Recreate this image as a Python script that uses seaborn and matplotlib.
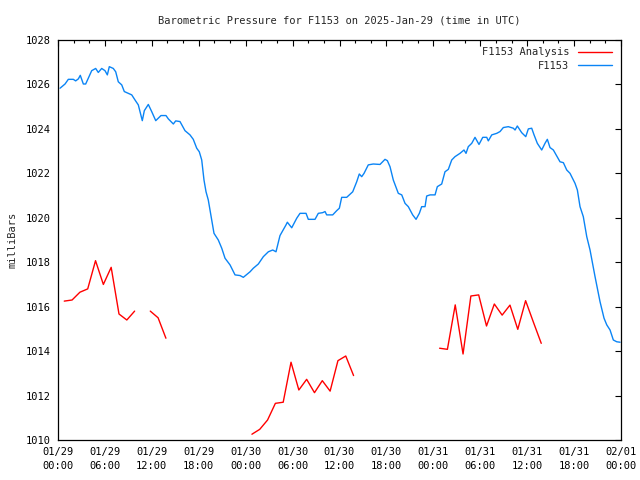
import numpy as np
import pandas as pd
import matplotlib
matplotlib.use('Agg')
import matplotlib.pyplot as plt
import seaborn as sns

# hours since 2025-01-29 00:00 UTC
obs_hours = [0.26, 0.9, 1.32, 1.96, 2.26, 2.6, 2.85, 3.24, 3.54, 4.31, 4.82, 5.15, 5.59, 6.01,
             6.31, 6.56, 7.07, 7.38, 7.71, 8.15, 8.48, 9.43, 9.85, 10.27, 10.49, 10.78, 11.04,
             11.55, 11.98, 12.5, 13.17, 13.81, 14.11, 14.75, 15.05, 15.6, 16.24, 16.88, 17.3,
             17.74, 18.07, 18.38, 18.67, 18.93, 19.22, 19.66, 19.95, 20.5, 20.94, 21.36, 22.0,
             22.64, 23.28, 23.7, 24.56, 24.98, 25.62, 26.26, 26.9, 27.46, 27.88, 28.39, 29.16,
             29.33, 29.89, 30.53, 30.95, 31.72, 32.01, 32.87, 33.29, 33.85, 34.15, 34.36, 35.13,
             35.64, 35.98, 36.28, 36.92, 37.69, 38.2, 38.53, 38.84, 39.14, 39.68, 40.32, 41.18,
             41.82, 42.12, 42.46, 42.88, 43.52, 43.96, 44.38, 44.8, 45.36, 45.79, 46.21, 46.51,
             46.94, 47.15, 47.58, 48.22, 48.51, 49.07, 49.49, 49.92, 50.35, 50.77, 51.41, 51.92,
             52.18, 52.47, 52.91, 53.33, 53.84, 54.32, 54.83, 55.03, 55.47, 56.11, 56.53, 56.95,
             57.59, 58.23, 58.45, 58.74, 59.3, 59.82, 60.15, 60.58, 60.88, 61.3, 61.86, 62.28,
             62.58, 62.92, 63.35, 64.2, 64.63, 65.06, 65.48, 66.12, 66.42, 66.76, 67.18, 67.62,
             68.04, 68.68, 69.32, 69.83, 70.18, 70.6, 71.02, 71.46, 71.88]
obs_mb = [1025.83, 1026.02, 1026.23, 1026.23, 1026.16, 1026.25, 1026.41, 1026.02, 1026.02,
          1026.62, 1026.72, 1026.54, 1026.72, 1026.62, 1026.43, 1026.8, 1026.72, 1026.57,
          1026.12, 1025.98, 1025.68, 1025.53, 1025.3, 1025.08, 1024.78, 1024.37, 1024.82,
          1025.1, 1024.78, 1024.37, 1024.6, 1024.6, 1024.45, 1024.22, 1024.36, 1024.33,
          1023.92, 1023.73, 1023.53, 1023.13, 1022.97, 1022.6, 1021.7, 1021.17, 1020.8,
          1019.9, 1019.3, 1019.0, 1018.63, 1018.18, 1017.88, 1017.43, 1017.4, 1017.32,
          1017.57, 1017.73, 1017.92, 1018.25, 1018.47, 1018.55, 1018.47, 1019.2, 1019.68,
          1019.8, 1019.55, 1019.98, 1020.2, 1020.2, 1019.93, 1019.93, 1020.2, 1020.23,
          1020.28, 1020.13, 1020.13, 1020.32, 1020.43, 1020.92, 1020.92, 1021.17, 1021.62,
          1021.97, 1021.85, 1022.0, 1022.38, 1022.42, 1022.4, 1022.63, 1022.57, 1022.3,
          1021.7, 1021.1, 1021.03, 1020.65, 1020.5, 1020.13, 1019.93, 1020.2, 1020.5,
          1020.5, 1020.98, 1021.03, 1021.03, 1021.4, 1021.52, 1022.07, 1022.18, 1022.6,
          1022.75, 1022.9, 1023.05, 1022.9, 1023.2, 1023.35, 1023.62, 1023.3, 1023.62,
          1023.62, 1023.46, 1023.73, 1023.8, 1023.88, 1024.06, 1024.1, 1024.03, 1023.95,
          1024.13, 1023.83, 1023.65, 1024.0, 1024.03, 1023.73, 1023.35, 1023.05, 1023.35,
          1023.53, 1023.16, 1023.05, 1022.52, 1022.48, 1022.15, 1022.0, 1021.55, 1021.25,
          1020.5, 1020.05, 1019.15, 1018.55, 1017.35, 1016.22, 1015.48, 1015.18, 1014.95,
          1014.5, 1014.42, 1014.4]

ana_hours = [0.8, 1.8, 2.8, 3.8, 4.8, 5.8, 6.8, 7.8, 8.8, 9.8,
             11.8, 12.8, 13.8,
             24.8, 25.8, 26.8, 27.8, 28.8, 29.8, 30.8, 31.8, 32.8, 33.8, 34.8, 35.8, 36.8, 37.8,
             48.8, 49.8, 50.8, 51.8, 52.8, 53.8, 54.8, 55.8, 56.8, 57.8, 58.8, 59.8, 60.8, 61.8]
ana_mb = [1016.25, 1016.3, 1016.65, 1016.8, 1018.07, 1017.0, 1017.77, 1015.67, 1015.4, 1015.8,
          1015.8, 1015.5, 1014.58,
          1010.26, 1010.48, 1010.9, 1011.65, 1011.7, 1013.5, 1012.25, 1012.73, 1012.13, 1012.67,
          1012.2, 1013.57, 1013.78, 1012.9,
          1014.13, 1014.08, 1016.08, 1013.87, 1016.48, 1016.53, 1015.13, 1016.12, 1015.62,
          1016.07, 1014.98, 1016.27, 1015.3, 1014.35]
ana_seg = [0] * 10 + [1] * 3 + [2] * 14 + [3] * 14

xtick_labels = ['01/29\n00:00', '01/29\n06:00', '01/29\n12:00', '01/29\n18:00',
                '01/30\n00:00', '01/30\n06:00', '01/30\n12:00', '01/30\n18:00',
                '01/31\n00:00', '01/31\n06:00', '01/31\n12:00', '01/31\n18:00',
                '02/01\n00:00']

obs = pd.DataFrame({'hour': obs_hours, 'mb': obs_mb})
ana = pd.DataFrame({'hour': ana_hours, 'mb': ana_mb, 'seg': ana_seg})

sns.set_theme(style='white')
plt.rcParams['font.family'] = ['DejaVu Sans Mono']
plt.rcParams['font.size'] = 7.5

fig = plt.figure(figsize=(6.4, 4.8), dpi=100)
ax = fig.add_axes([58 / 640, 40 / 480, 563 / 640, 400 / 480])

sns.lineplot(data=ana, x='hour', y='mb', units='seg', estimator=None, color='#ff0000',
             linewidth=1.0, ax=ax, label='F1153 Analysis')
sns.lineplot(data=obs, x='hour', y='mb', color='#0a84f5', linewidth=1.0, ax=ax, label='F1153')

ax.set_xlim(0, 72)
ax.set_ylim(1010, 1028)
ax.set_xticks(np.arange(0, 73, 6))
ax.set_xticklabels(xtick_labels, linespacing=1.45)
ax.set_xticks(np.arange(0, 73, 2), minor=True)
ax.set_yticks(np.arange(1010, 1029, 2))
ax.tick_params(axis='both', which='both', direction='in', top=True, right=True,
               color='black', width=0.8, labelsize=7.5, labelcolor='black')
ax.tick_params(axis='both', which='major', length=4.5, pad=5)
ax.tick_params(axis='x', which='minor', length=2.5)
for s in ax.spines.values():
    s.set_color('black')
    s.set_linewidth(0.9)

ax.set_xlabel('')
ax.set_ylabel('milliBars', fontsize=7.5, labelpad=6)
ax.set_title('Barometric Pressure for F1153 on 2025-Jan-29 (time in UTC)', fontsize=7.5, pad=12)

# one legend entry per series (the units split the red line into pieces)
handles, labels = ax.get_legend_handles_labels()
keep = {}
for h, l in zip(handles, labels):
    if l not in keep:
        keep[l] = h
ax.legend(list(keep.values()), list(keep.keys()), loc='upper right', frameon=False,
          markerfirst=False, fontsize=7.5, handlelength=3.3, handletextpad=0.8,
          labelspacing=0.35, borderaxespad=0.3, bbox_to_anchor=(0.997, 1.0))

fig.savefig('out.png', dpi=100)
